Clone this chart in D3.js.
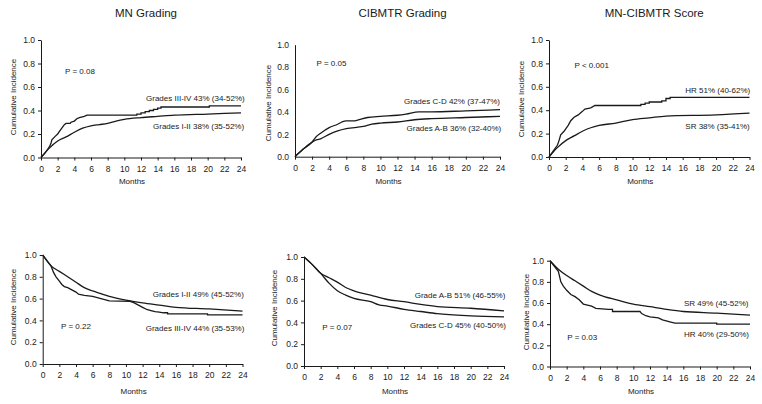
<!DOCTYPE html>
<html>
<head>
<meta charset="utf-8">
<script src="https://cdn.jsdelivr.net/npm/d3@7"></script>
<style>
  html, body { margin: 0; padding: 0; background: #fff; }
  svg { display: block; font-family: "Liberation Sans", Arial, sans-serif; }
</style>
</head>
<body>
<svg id="chart" width="762" height="404"></svg>
<script>
// ---------- DATA ----------
const xTicks = [0, 2, 4, 6, 8, 10, 12, 14, 16, 18, 20, 22, 24];
const yTicks = [0.0, 0.2, 0.4, 0.6, 0.8, 1.0];
const titles = ["MN Grading", "CIBMTR Grading", "MN-CIBMTR Score"];

// Top row: cumulative incidence (months, value); repeated months = vertical steps
const mnIIIIV_t = [0, 0.5, 1, 1.2, 1.3, 1.7, 2, 2.3, 2.5, 2.8, 3, 3.5, 3.6, 4, 4.3, 4.6, 5.2, 5.5, 11.5, 11.5, 12, 12, 12.5, 12.5, 13, 13, 13.5, 13.5, 14, 14, 14.4, 14.4, 20.2, 20.2, 24];
const mnIIIIV_v = [0, 0.04, 0.09, 0.12, 0.15, 0.18, 0.2, 0.23, 0.25, 0.28, 0.29, 0.29, 0.30, 0.31, 0.33, 0.34, 0.35, 0.36, 0.36, 0.37, 0.37, 0.38, 0.38, 0.39, 0.39, 0.40, 0.40, 0.41, 0.41, 0.42, 0.42, 0.43, 0.43, 0.44, 0.44];
const mnIII_t = [0, 1, 2, 3, 4, 5, 6, 7, 8, 9, 10, 12, 14, 16, 20, 24];
const mnIII_v = [0, 0.08, 0.14, 0.175, 0.215, 0.25, 0.27, 0.28, 0.29, 0.31, 0.325, 0.34, 0.35, 0.36, 0.37, 0.38];

const cbCD_t = [0, 1, 2, 2.5, 3, 4, 5, 5.5, 6, 7, 7.5, 8.5, 10, 12, 13, 14.5, 16, 20, 24];
const cbCD_v = [0, 0.07, 0.13, 0.18, 0.21, 0.26, 0.29, 0.31, 0.32, 0.32, 0.33, 0.35, 0.36, 0.37, 0.38, 0.40, 0.40, 0.41, 0.42];
const cbAB_t = [0, 1, 2, 2.5, 3, 4, 5, 6, 8, 9, 10, 12, 14, 16, 20, 24];
const cbAB_v = [0, 0.07, 0.13, 0.15, 0.16, 0.2, 0.23, 0.25, 0.27, 0.29, 0.3, 0.31, 0.33, 0.34, 0.35, 0.36];

const scHR_t = [0, 0.5, 1, 1.2, 1.4, 1.8, 2, 2.3, 2.6, 3, 3.5, 4, 4.3, 5, 5.5, 11, 11, 11.5, 11.5, 12, 12, 13.5, 13.5, 14, 14, 14.5, 14.5, 24];
const scHR_v = [0, 0.05, 0.1, 0.14, 0.19, 0.22, 0.24, 0.27, 0.31, 0.34, 0.36, 0.39, 0.41, 0.42, 0.44, 0.44, 0.45, 0.45, 0.46, 0.46, 0.47, 0.47, 0.48, 0.48, 0.50, 0.50, 0.51, 0.51];
const scSR_t = [0, 1, 2, 3, 4, 5, 6, 8, 10, 12, 14, 20, 24];
const scSR_v = [0, 0.08, 0.14, 0.18, 0.22, 0.25, 0.27, 0.29, 0.32, 0.335, 0.35, 0.36, 0.375];

// Bottom row (months, value)
const mnIII2_t = [0, 1, 2, 3, 4, 5, 6, 7, 8, 10, 12, 14, 16, 20, 24];
const mnIII2_v = [1, 0.9, 0.85, 0.8, 0.75, 0.7, 0.67, 0.645, 0.62, 0.585, 0.56, 0.54, 0.52, 0.505, 0.485];
const mnIIIIV2_t = [0, 0.5, 1, 1.3, 1.6, 2, 2.3, 2.6, 3, 3.5, 4, 4.3, 5, 6, 7, 8, 10.5, 11, 11.5, 12, 12.5, 13, 13.5, 14, 14.5, 15, 15, 19.8, 19.8, 24];
const mnIIIIV2_v = [1, 0.95, 0.9, 0.84, 0.8, 0.76, 0.73, 0.71, 0.7, 0.68, 0.66, 0.64, 0.63, 0.62, 0.6, 0.58, 0.575, 0.56, 0.54, 0.52, 0.5, 0.49, 0.48, 0.475, 0.47, 0.47, 0.46, 0.46, 0.45, 0.45];

const cbAB2_t = [0, 1, 2, 3, 4, 5, 6, 8, 10, 12, 14, 16, 20, 24];
const cbAB2_v = [1, 0.93, 0.85, 0.81, 0.77, 0.72, 0.69, 0.65, 0.61, 0.59, 0.565, 0.545, 0.53, 0.505];
const cbCD2_t = [0, 1, 2, 3, 4, 5, 6, 8, 9, 10, 12, 14, 16, 20, 24];
const cbCD2_v = [1, 0.93, 0.85, 0.76, 0.69, 0.65, 0.62, 0.59, 0.56, 0.55, 0.52, 0.5, 0.48, 0.46, 0.45];

const scSR2_t = [0, 1, 2, 3, 4, 5, 6, 8, 10, 12, 14, 16, 20, 24];
const scSR2_v = [1, 0.92, 0.86, 0.81, 0.76, 0.71, 0.675, 0.63, 0.59, 0.565, 0.54, 0.52, 0.505, 0.485];
const scHR2_t = [0, 0.5, 1, 1.3, 1.6, 2, 2.5, 3, 3.5, 4, 4.5, 5, 5.5, 7, 7.5, 7.5, 10.8, 11, 11.5, 12, 13, 13.5, 14.5, 15, 20, 20, 24];
const scHR2_v = [1, 0.95, 0.9, 0.8, 0.76, 0.72, 0.68, 0.66, 0.63, 0.59, 0.58, 0.57, 0.55, 0.54, 0.54, 0.52, 0.52, 0.5, 0.48, 0.47, 0.46, 0.44, 0.42, 0.41, 0.41, 0.40, 0.40];

const pValues = ["P = 0.08", "P = 0.05", "P < 0.001", "P = 0.22", "P = 0.07", "P = 0.03"];
const seriesLabels = [
  ["Grades III-IV 43% (34-52%)", "Grades I-II 38% (35-52%)"],
  ["Grades C-D 42% (37-47%)", "Grades A-B 36% (32-40%)"],
  ["HR 51% (40-62%)", "SR 38% (35-41%)"],
  ["Grades I-II 49% (45-52%)", "Grades III-IV 44% (35-53%)"],
  ["Grade A-B 51% (46-55%)", "Grades C-D 45% (40-50%)"],
  ["SR 49% (45-52%)", "HR 40% (29-50%)"]
];

// ---------- LAYOUT ----------
const zip = (t, v) => t.map((d, i) => [d, v[i]]);
const panels = [
  { x0: 41, x1: 241, yTop: 40, yBot: 157.5, title: titles[0], yTickMarks: true,
    series: [{ d: zip(mnIIIIV_t, mnIIIIV_v), smooth: false }, { d: zip(mnIII_t, mnIII_v), smooth: true }],
    p: [65, 74], lab: [[146, 101], [153, 129]], ylab: [13, 97] },
  { x0: 295, x1: 500, yTop: 44.7, yBot: 156.7, title: titles[1], yTickMarks: false,
    series: [{ d: zip(cbCD_t, cbCD_v), smooth: true }, { d: zip(cbAB_t, cbAB_v), smooth: true }],
    p: [316.5, 66], lab: [[404, 104], [406.5, 131]], ylab: [268, 103] },
  { x0: 549, x1: 749.5, yTop: 40, yBot: 157, title: titles[2], yTickMarks: true,
    series: [{ d: zip(scHR_t, scHR_v), smooth: false }, { d: zip(scSR_t, scSR_v), smooth: true }],
    p: [574.5, 68], lab: [[685.3, 93], [685.3, 129]], ylab: [521, 99] },
  { x0: 42.7, x1: 242.5, yTop: 255, yBot: 364, title: null, yTickMarks: true,
    series: [{ d: zip(mnIII2_t, mnIII2_v), smooth: true }, { d: zip(mnIIIIV2_t, mnIIIIV2_v), smooth: false }],
    p: [61, 329], lab: [[152.7, 297], [145.7, 331]], ylab: [13, 307] },
  { x0: 304, x1: 504, yTop: 257, yBot: 366, title: null, yTickMarks: true,
    series: [{ d: zip(cbAB2_t, cbAB2_v), smooth: true }, { d: zip(cbCD2_t, cbCD2_v), smooth: true }],
    p: [322.3, 329.5], lab: [[414.7, 298], [410, 327.5]], ylab: [274, 308] },
  { x0: 550, x1: 750, yTop: 260.7, yBot: 366.5, title: null, yTickMarks: true,
    series: [{ d: zip(scSR2_t, scSR2_v), smooth: true }, { d: zip(scHR2_t, scHR2_v), smooth: false }],
    p: [567.3, 340], lab: [[684, 306], [684, 337]], ylab: [525.5, 312] }
];

const svg = d3.select("#chart");
const ink = "#1a1a1a";

panels.forEach((P, i) => {
  const x = d3.scaleLinear().domain([0, 24]).range([P.x0, P.x1]);
  const y = d3.scaleLinear().domain([0, 1]).range([P.yBot, P.yTop]);
  const g = svg.append("g");

  const xa = g.append("g").attr("transform", `translate(0,${P.yBot})`)
    .call(d3.axisBottom(x).tickValues(xTicks).tickFormat(d3.format("d")).tickSize(3).tickSizeOuter(0));
  const ya = g.append("g").attr("transform", `translate(${P.x0},0)`)
    .call(d3.axisLeft(y).tickValues(yTicks).tickFormat(d3.format(".1f"))
      .tickSize(P.yTickMarks ? 3 : 0).tickSizeOuter(0).tickPadding(P.yTickMarks ? 3 : 6));
  [xa, ya].forEach(a => {
    a.select(".domain").attr("stroke", ink).attr("stroke-width", 1);
    a.selectAll(".tick line").attr("stroke", ink);
    a.selectAll("text").attr("font-size", 8.5).attr("fill", ink)
      .attr("font-family", "Liberation Sans, Arial, sans-serif");
  });
  xa.selectAll("text").attr("dy", "0.95em");

  P.series.forEach(s => {
    const line = d3.line().x(d => x(d[0])).y(d => y(d[1]))
      .curve(s.smooth ? d3.curveMonotoneX : d3.curveLinear);
    g.append("path").datum(s.d).attr("d", line)
      .attr("fill", "none").attr("stroke", ink).attr("stroke-width", 1.3)
      .attr("stroke-linejoin", "miter");
  });

  if (P.title) {
    g.append("text").attr("x", (P.x0 + P.x1) / 2 + 5).attr("y", 17)
      .attr("text-anchor", "middle").attr("font-size", 11.5).attr("fill", ink).text(P.title);
  }
  g.append("text").attr("x", (P.x0 + P.x1) / 2 - 9).attr("y", i < 3 ? 184 : 394)
    .attr("text-anchor", "middle").attr("font-size", 8).attr("fill", ink).text("Months");
  g.append("text").attr("transform", `translate(${P.ylab[0] + 3},${P.ylab[1]}) rotate(-90)`)
    .attr("text-anchor", "middle").attr("font-size", 8).attr("fill", ink).text("Cumulative Incidence");
  g.append("text").attr("x", P.p[0]).attr("y", P.p[1]).attr("font-size", 8).attr("fill", ink).text(pValues[i]);
  P.lab.forEach((l, k) => {
    g.append("text").attr("x", l[0]).attr("y", l[1]).attr("font-size", 8).attr("fill", ink).text(seriesLabels[i][k]);
  });
});
</script>
</body>
</html>
